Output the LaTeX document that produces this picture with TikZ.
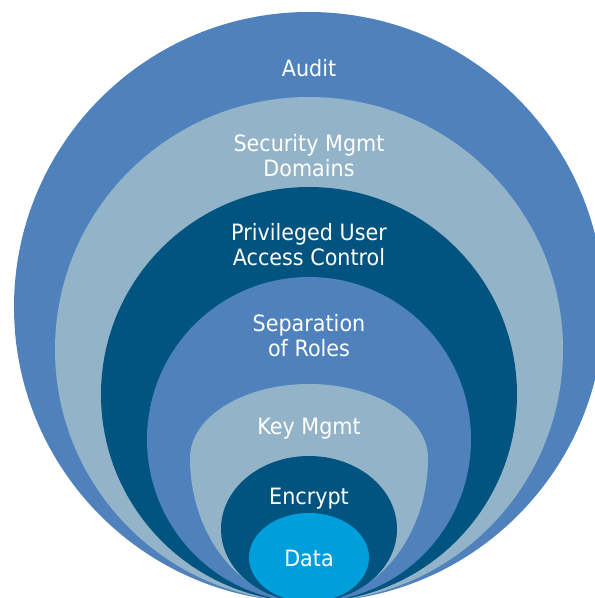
\documentclass[tikz,border=0pt]{standalone}
\usepackage{fontspec}
\setmainfont{DejaVu Sans}[FakeStretch=0.92]
\usetikzlibrary{shapes.geometric}
\definecolor{ringblue}{RGB}{79,129,189}
\definecolor{ringlight}{RGB}{147,180,200}
\definecolor{ringdark}{RGB}{1,84,128}
\definecolor{ringcyan}{RGB}{0,158,219}
\tikzset{
  layer/.style={ellipse, inner sep=0pt, outer sep=0pt, draw=none},
  lbl/.style={text=white, align=center, anchor=base, inner sep=0pt,
    font=\fontsize{22.5}{25}\selectfont}
}
\begin{document}
\begin{tikzpicture}[x=1pt, y=-1pt]
  \useasboundingbox (0,0) rectangle (595,598);
  \fill[white] (0,0) rectangle (595,598);
  \begin{scope}
    \clip (0,0) rectangle (595,598);
    % nested layers, all resting on the same bottom point
    \node[layer, fill=ringblue,  minimum width=590pt, minimum height=590pt] (audit)   at (309,307)   {};
    \node[layer, fill=ringlight, minimum width=508pt, minimum height=505pt] (secdom)  at (309,349.5) {};
    \node[layer, fill=ringdark,  minimum width=416pt, minimum height=415pt] (priv)    at (309,394.5) {};
    \node[layer, fill=ringblue,  minimum width=324pt, minimum height=325pt] (sep)     at (309,439.5) {};
    % key management layer: broad dome on top, tapering to the bottom point
    \fill[ringlight] (190,458)
      arc[start angle=180, end angle=360, x radius=119, y radius=74]
      arc[start angle=0, end angle=180, x radius=119, y radius=144] -- cycle;
    \node[layer, fill=ringdark,  minimum width=176pt, minimum height=146pt] (encrypt) at (309,529)   {};
    \node[layer, fill=ringcyan,  minimum width=120pt, minimum height=89pt]  (data)    at (309,557.5) {};
  \end{scope}
  % labels (anchored on the baseline of their last line)
  \node[lbl] (tAudit)   at (309,76)  {Audit};
  \node[lbl] (tSecdom)  at (309,176) {Security Mgmt\\Domains};
  \node[lbl] (tPriv)    at (309,265) {Privileged User\\Access Control};
  \node[lbl] (tSep)     at (309,356) {Separation\\of Roles};
  \node[lbl] (tKey)     at (309,434) {Key Mgmt};
  \node[lbl] (tEnc)     at (309,504) {Encrypt};
  \node[lbl] (tData)    at (309,566) {Data};
\end{tikzpicture}
\end{document}
